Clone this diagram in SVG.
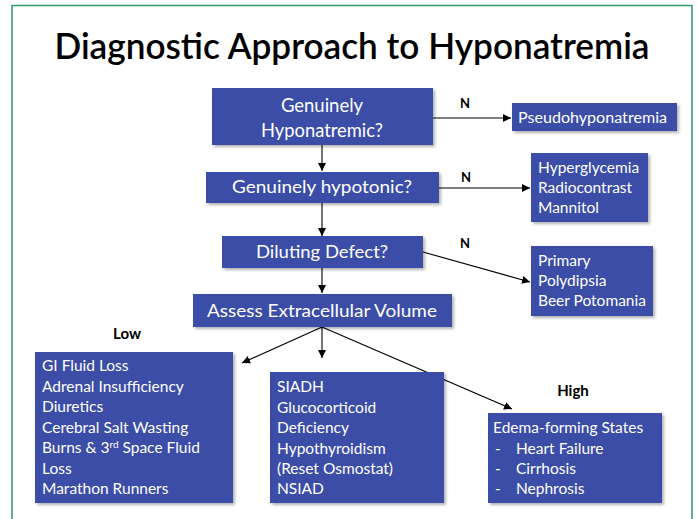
<svg xmlns="http://www.w3.org/2000/svg" width="698" height="519" viewBox="0 0 698 519">
<defs>
<marker id="ah" viewBox="0 0 10 10" refX="10" refY="5" markerWidth="8" markerHeight="8" markerUnits="userSpaceOnUse" orient="auto">
<path d="M0,0 L10,5 L0,10 z" fill="#000"/>
</marker>
<filter id="sh" x="-5%" y="-5%" width="115%" height="125%">
<feDropShadow dx="2" dy="2" stdDeviation="1.5" flood-color="#000" flood-opacity="0.3"/>
</filter>
</defs>
<style>
.box{fill:#3B4EA6;filter:url(#sh)}
.t{font-family:Lato,"Open Sans",sans-serif;fill:#fff;font-size:15.5px}
.tc{text-anchor:middle}
.big{font-size:17px}
.lab{font-family:Lato,"Open Sans",sans-serif;fill:#000;font-weight:bold;font-size:13px}
.hl{font-family:Lato,"Open Sans",sans-serif;fill:#000;font-weight:bold;font-size:15px}
.c{stroke:#000;stroke-width:1.1;fill:none}
</style>
<rect x="0" y="0" width="698" height="519" fill="#fff"/>
<path d="M12,519 L12,5.5 L692,5.5 L692,519" fill="none" stroke="#2E9A6A" stroke-width="1.5"/>
<text x="352" y="59" text-anchor="middle" font-family="Lato,'Open Sans',sans-serif" font-size="36" font-weight="600" fill="#000" textLength="595" lengthAdjust="spacingAndGlyphs">Diagnostic Approach to Hyponatremia</text>

<g id="connectors">
<line class="c" x1="433" y1="118" x2="511" y2="118" marker-end="url(#ah)"/>
<line class="c" x1="322" y1="145" x2="322" y2="171" marker-end="url(#ah)"/>
<line class="c" x1="439" y1="188" x2="530" y2="188" marker-end="url(#ah)"/>
<line class="c" x1="322" y1="203" x2="322" y2="236" marker-end="url(#ah)"/>
<line class="c" x1="423" y1="252" x2="530" y2="282" marker-end="url(#ah)"/>
<line class="c" x1="322" y1="268" x2="322" y2="293" marker-end="url(#ah)"/>
<line class="c" x1="322" y1="327" x2="242" y2="363" marker-end="url(#ah)"/>
<line class="c" x1="322" y1="327" x2="322" y2="358" marker-end="url(#ah)"/>
<line class="c" x1="322" y1="327" x2="512" y2="409" marker-end="url(#ah)"/>
<text class="lab" x="465" y="108" text-anchor="middle">N</text>
<text class="lab" x="466" y="182" text-anchor="middle">N</text>
<text class="lab" x="465" y="248" text-anchor="middle">N</text>
<text class="hl" x="127" y="339" text-anchor="middle">Low</text>
<text class="hl" x="573" y="396" text-anchor="middle">High</text>
</g>

<g id="n1"><rect class="box" x="212" y="88" width="221" height="57"/>
<text class="t tc big" x="322" y="112" style="font-size:18.5px">Genuinely</text>
<text class="t tc big" x="322" y="137" style="font-size:18.5px" textLength="122" lengthAdjust="spacingAndGlyphs">Hyponatremic?</text></g>

<g id="n2"><rect class="box" x="512" y="103" width="165" height="28"/>
<text class="t" x="518" y="123" textLength="149" lengthAdjust="spacingAndGlyphs">Pseudohyponatremia</text></g>

<g id="n3"><rect class="box" x="206" y="172" width="233" height="31"/>
<text class="t tc big" x="322" y="193" textLength="180" lengthAdjust="spacingAndGlyphs">Genuinely hypotonic?</text></g>

<g id="n4"><rect class="box" x="531" y="153" width="117" height="69"/>
<text class="t" x="538" y="173">Hyperglycemia</text>
<text class="t" x="538" y="193">Radiocontrast</text>
<text class="t" x="538" y="213">Mannitol</text></g>

<g id="n5"><rect class="box" x="222" y="236" width="201" height="32"/>
<text class="t tc big" x="322" y="258" textLength="132" lengthAdjust="spacingAndGlyphs">Diluting Defect?</text></g>

<g id="n6"><rect class="box" x="531" y="246" width="122" height="70"/>
<text class="t" x="538" y="266">Primary</text>
<text class="t" x="538" y="286">Polydipsia</text>
<text class="t" x="538" y="306">Beer Potomania</text></g>

<g id="n7"><rect class="box" x="193" y="294" width="259" height="33"/>
<text class="t tc big" x="322" y="317" textLength="230" lengthAdjust="spacingAndGlyphs">Assess Extracellular Volume</text></g>

<g id="n8"><rect class="box" x="35" y="352" width="198" height="151"/>
<text class="t" x="42" y="371">GI Fluid Loss</text>
<text class="t" x="42" y="391.5">Adrenal Insufficiency</text>
<text class="t" x="42" y="412">Diuretics</text>
<text class="t" x="42" y="432.5">Cerebral Salt Wasting</text>
<text class="t" x="42" y="453">Burns &amp; 3<tspan font-size="10" dy="-5">rd</tspan><tspan dy="5"> Space Fluid</tspan></text>
<text class="t" x="42" y="473.5">Loss</text>
<text class="t" x="42" y="494">Marathon Runners</text></g>

<g id="n9"><rect class="box" x="270" y="372" width="174" height="131"/>
<text class="t" x="277" y="392">SIADH</text>
<text class="t" x="277" y="412.5">Glucocorticoid</text>
<text class="t" x="277" y="433">Deficiency</text>
<text class="t" x="277" y="453.5">Hypothyroidism</text>
<text class="t" x="277" y="474">(Reset Osmostat)</text>
<text class="t" x="277" y="494">NSIAD</text></g>

<g id="n10"><rect class="box" x="488" y="413" width="174" height="90"/>
<text class="t" x="493" y="433">Edema-forming States</text>
<text class="t" x="495" y="453.5">-</text><text class="t" x="516" y="453.5">Heart Failure</text>
<text class="t" x="495" y="474">-</text><text class="t" x="516" y="474">Cirrhosis</text>
<text class="t" x="495" y="494">-</text><text class="t" x="516" y="494">Nephrosis</text></g>
</svg>
